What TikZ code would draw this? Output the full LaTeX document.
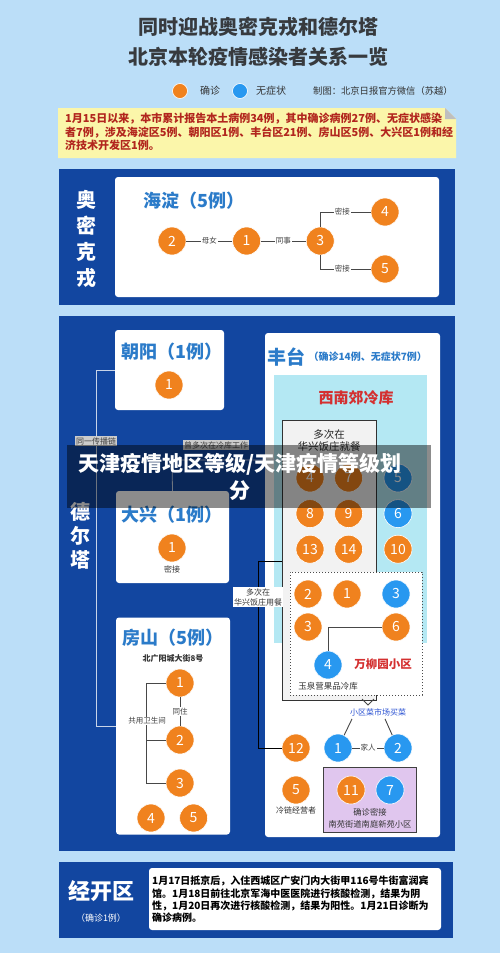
\documentclass[tikz,border=0pt]{standalone}
\usepackage{fontspec}
\setmainfont{Noto Sans CJK SC}
\usetikzlibrary{positioning,calc}
\definecolor{skybg}{RGB}{187,222,248}
\definecolor{panelblue}{RGB}{18,70,160}
\definecolor{titleblue}{RGB}{43,123,201}
\definecolor{titlegray}{RGB}{55,58,62}
\definecolor{confcol}{RGB}{240,130,30}
\definecolor{asymcol}{RGB}{40,152,240}
\definecolor{noteyellow}{RGB}{251,246,170}
\definecolor{notered}{RGB}{178,38,30}
\definecolor{placered}{RGB}{212,48,48}
\definecolor{cyanbg}{RGB}{180,232,243}
\definecolor{lavender}{RGB}{224,198,238}
\definecolor{chaincol}{RGB}{200,212,232}
\definecolor{buyblue}{RGB}{40,80,210}
\tikzset{
    confnode/.style={circle, fill=confcol, draw=white, line width=0.6pt, text=white, minimum size=28pt, inner sep=0pt, font=\fontsize{14}{14}\selectfont},
    asymnode/.style={confnode, fill=asymcol},
    card/.style={fill=white, rounded corners=3pt},
    areatitle/.style={font=\fontsize{18}{18}\selectfont\bfseries, text=titleblue, inner sep=0pt},
    sidelabel/.style={font=\fontsize{20}{25}\selectfont\bfseries, text=white, align=center},
    link/.style={draw=black!72, line width=0.9pt},
    chainline/.style={draw=chaincol, line width=0.8pt},
    chainnote/.style={fill=black!20, text=black!75, font=\fontsize{8}{9}\selectfont, inner sep=1pt},
    rel/.style={font=\fontsize{7.5}{8}\selectfont, fill=white, text=black!75, inner sep=1pt},
    smallnote/.style={font=\fontsize{8}{10}\selectfont, text=black!80, align=center, inner sep=1pt}
}
\begin{document}
\begin{tikzpicture}[x=1pt, y=-1pt]
    \useasboundingbox (0,0) rectangle (500,953);
    \fill[skybg] (0,0) rectangle (500,953);

    % title and legend
    \node[font=\fontsize{20}{20}\selectfont\bfseries, text=titlegray] (title1) at (258,27) {同时迎战奥密克戎和德尔塔};
    \node[font=\fontsize{20}{20}\selectfont\bfseries, text=titlegray] (title2) at (258,57) {北京本轮疫情感染者关系一览};
    \node[confnode, minimum size=15pt] (legconf) at (180,91) {};
    \node[font=\fontsize{10}{10}\selectfont, text=black!80] (legconftxt) at (210,91) {确诊};
    \node[asymnode, minimum size=15pt] (legasym) at (240,91) {};
    \node[font=\fontsize{10}{10}\selectfont, text=black!80] (legasymtxt) at (271,91) {无症状};
    \node[anchor=west, font=\fontsize{9.3}{10}\selectfont, text=black!80, inner sep=0pt] (credit) at (313,91) {制图：北京日报官方微信（苏越）};

    % summary note
    \fill[noteyellow] (58,108) -- (445,108) -- (456,119) -- (456,158) -- (58,158) -- cycle;
    \fill[black!25] (445,108) -- (456,119) -- (445,119) -- cycle;
    \node[anchor=north west, align=left, inner sep=0pt, text=notered, font=\fontsize{11}{13.6}\selectfont\bfseries] (summary) at (65,113)
        {1月15日以来，本市累计报告本土病例34例，其中确诊病例27例、无症状感染\\者7例，涉及海淀区5例、朝阳区1例、丰台区21例、房山区5例、大兴区1例和经\\济技术开发区1例。};

    % Omicron panel
    \fill[panelblue] (59,169) rectangle (455,305);
    \node[sidelabel, font=\fontsize{20}{26}\selectfont\bfseries] (omilabel) at (86,239) {奥\\密\\克\\戎};
    \fill[card] (115,177) rectangle (439,297);
    \node[areatitle] (hdtitle) at (194,201) {海淀（5例）};
    \node[confnode] (hd2) at (172,241) {2};
    \node[confnode, right=46pt of hd2] (hd1) {1};
    \node[confnode, right=45pt of hd1] (hd3) {3};
    \node[confnode] (hd4) at (385,212) {4};
    \node[confnode] (hd5) at (385,269) {5};
    \draw[link] (hd2) -- node[rel] {母女} (hd1);
    \draw[link] (hd1) -- node[rel] {同事} (hd3);
    \draw[link] (hd3) |- node[rel, pos=0.72] {密接} (hd4);
    \draw[link] (hd3) |- node[rel, pos=0.72] {密接} (hd5);

    % Delta panel
    \fill[panelblue] (59,316) rectangle (455,851);
    \node[sidelabel, font=\fontsize{20}{24}\selectfont\bfseries] (dellabel) at (80,536) {德\\尔\\塔};

    % Chaoyang
    \node[card, minimum width=109pt, minimum height=80pt] (cybox) at (169.5,370) {};
    \node[areatitle] (cytitle) at (172,352) {朝阳（1例）};
    \node[confnode] (cy1) at (169,385) {1};

    % Daxing
    \node[card, minimum width=113pt, minimum height=92pt] (dxbox) at (172.5,537) {};
    \node[areatitle] (dxtitle) at (172,515) {大兴（1例）};
    \node[confnode] (dx1) at (172,548) {1};
    \node[smallnote, below=2pt of dx1] (dxnote) {密接};

    % Fangshan
    \node[card, minimum width=114pt, minimum height=217pt] (fsbox) at (173,726) {};
    \node[areatitle] (fstitle) at (173,638) {房山（5例）};
    \node[font=\fontsize{8}{9}\selectfont\bfseries, text=black!80] (fsaddr) at (173,658) {北广阳城大街8号};
    \node[confnode] (fs1) at (180,683) {1};
    \node[confnode] (fs2) at (180,740) {2};
    \node[confnode] (fs3) at (180,783) {3};
    \node[confnode] (fs4) at (151,818) {4};
    \node[confnode, right=14pt of fs4] (fs5) {5};
    \draw[link] (fs1) -- node[rel] {同住} (fs2);
    \draw[link] (fs1) -- ++(-34,0) |- (fs3);
    \draw[link] (fs2) -- ++(-34,0);
    \node[rel] (fsshare) at (147,721) {共用卫生间};

    % Fengtai
    \node[card, minimum width=175pt, minimum height=504pt] (ftbox) at (352.5,585) {};
    \node[anchor=west, inner sep=0pt, font=\fontsize{19}{19}\selectfont\bfseries, text=titleblue] (fttitle) at (267,357) {丰台};
    \node[right=3pt of fttitle, inner sep=0pt, font=\fontsize{10}{10}\selectfont\bfseries, text=titleblue] (ftcount) {（确诊14例、无症状7例）};
    \fill[cyanbg] (274,375) rectangle (427,643);
    \node[font=\fontsize{15}{15}\selectfont\bfseries, text=placered] (xnjtitle) at (356,398) {西南郊冷库};
    \node[fill=black!5, draw=black!80, line width=0.8pt, minimum width=94pt, minimum height=280pt] (grbox) at (329,560) {};
    \node[font=\fontsize{10.5}{12}\selectfont, text=black!85, align=center, inner sep=0pt] (grtitle) at (329,441) {多次在\\华兴饭庄就餐};
    \node[confnode] (hx4) at (310,478) {4};
    \node[confnode, right=10pt of hx4] (hx7) {7};
    \node[confnode, below=7pt of hx4] (hx8) {8};
    \node[confnode, below=7pt of hx7] (hx9) {9};
    \node[confnode, below=7pt of hx8] (hx13) {13};
    \node[confnode, below=7pt of hx9] (hx14) {14};
    \node[asymnode] (xn5) at (398,478) {5};
    \node[asymnode, below=7pt of xn5] (xn6) {6};
    \node[confnode, below=7pt of xn6] (xn10) {10};
    \draw[link] (362,699) -- (368,705) -- (374,699);

    % Wanliuyuan
    \node[fill=white, draw=black!70, dotted, line width=1pt, minimum width=132pt, minimum height=123pt] (wlbox) at (356,633.5) {};
    \node[confnode] (wl2) at (308,594) {2};
    \node[confnode] (wl1) at (347,594) {1};
    \node[asymnode] (wl3) at (396,594) {3};
    \node[confnode] (wl3b) at (308,627) {3};
    \node[confnode] (wl6) at (396,627) {6};
    \node[asymnode] (wl4) at (328,665) {4};
    \draw[link] (wl4) |- (wl6);
    \node[font=\fontsize{11.5}{12}\selectfont\bfseries, text=placered] (wltitle) at (383,664) {万柳园小区};
    \node[smallnote, font=\fontsize{8.5}{9}\selectfont] (yqy) at (328,686) {玉泉营果品冷库};

    % lower Fengtai
    \node[font=\fontsize{8}{9}\selectfont, text=buyblue, inner sep=0pt] (buy) at (378,712) {小区菜市场买菜};
    \node[confnode] (ft12) at (296,748) {12};
    \node[asymnode] (ftb1) at (338,748) {1};
    \node[asymnode] (ftb2) at (398,748) {2};
    \draw[link] (ftb1) -- node[rel] {家人} (ftb2);
    \draw[link] (ftb1) -- ([xshift=-26pt, yshift=-3pt]buy.south);
    \draw[link] (ftb2) -- ([xshift=7pt, yshift=-3pt]buy.south);
    \node[confnode] (ft5) at (296,790) {5};
    \node[smallnote, below=1pt of ft5] (ft5note) {冷链经营者};
    \node[fill=lavender, draw=black!75, line width=0.8pt, minimum width=93pt, minimum height=65pt] (njbox) at (369.5,799.5) {};
    \node[confnode] (nj11) at (351,790) {11};
    \node[asymnode] (nj7) at (390,790) {7};
    \node[smallnote, font=\fontsize{8.3}{12}\selectfont] (njnote) at (370,818) {确诊密接\\南苑街道南庭新苑小区};

    % links between districts
    \coordinate (chainturn) at (96,370);
    \draw[chainline] (cybox.west) -- (chainturn) |- (fsbox.west);
    \node[chainnote] (chainlbl) at (96,441) {同一传播链};
    \coordinate (dxturn) at (172,460);
    \draw[chainline] (dxbox.north) -- (dxturn) -- (grbox.west |- dxturn);
    \node[chainnote] (coldlbl) at (216,445) {曾多次在冷库工作};
    \coordinate (hxturn) at (258,561);
    \draw[draw=black, line width=0.9pt] (grbox.west |- hxturn) -- (hxturn) |- (ft12);
    \node[smallnote, fill=white, font=\fontsize{8}{10}\selectfont] (hxlbl) at (258,597) {多次在\\华兴饭庄用餐};

    % Jingkai panel
    \fill[panelblue] (59,862) rectangle (453,938);
    \node[font=\fontsize{22}{22}\selectfont\bfseries, text=white] (jklabel) at (101,891) {经开区};
    \node[font=\fontsize{9}{9}\selectfont, text=white] (jkcount) at (101,918) {（确诊1例）};
    \fill[card] (149,868) rectangle (441,930);
    \node[anchor=north west, align=left, inner sep=0pt, font=\fontsize{10}{12.2}\selectfont\bfseries] (jktext) at (152,876)
        {1月17日抵京后，入住西城区广安门内大街甲116号牛街富润宾\\馆。1月18日前往北京军海中医医院进行核酸检测，结果为阴\\性，1月20日再次进行核酸检测，结果为阳性。1月21日诊断为\\确诊病例。};

    % overlay banner
    \fill[black, opacity=0.45] (67,445) rectangle (431,508);
    \node[font=\fontsize{21}{27}\selectfont\bfseries, text=white, align=center] (banner) at (240,476.5) {天津疫情地区等级/天津疫情等级划\\分};
\end{tikzpicture}
\end{document}
